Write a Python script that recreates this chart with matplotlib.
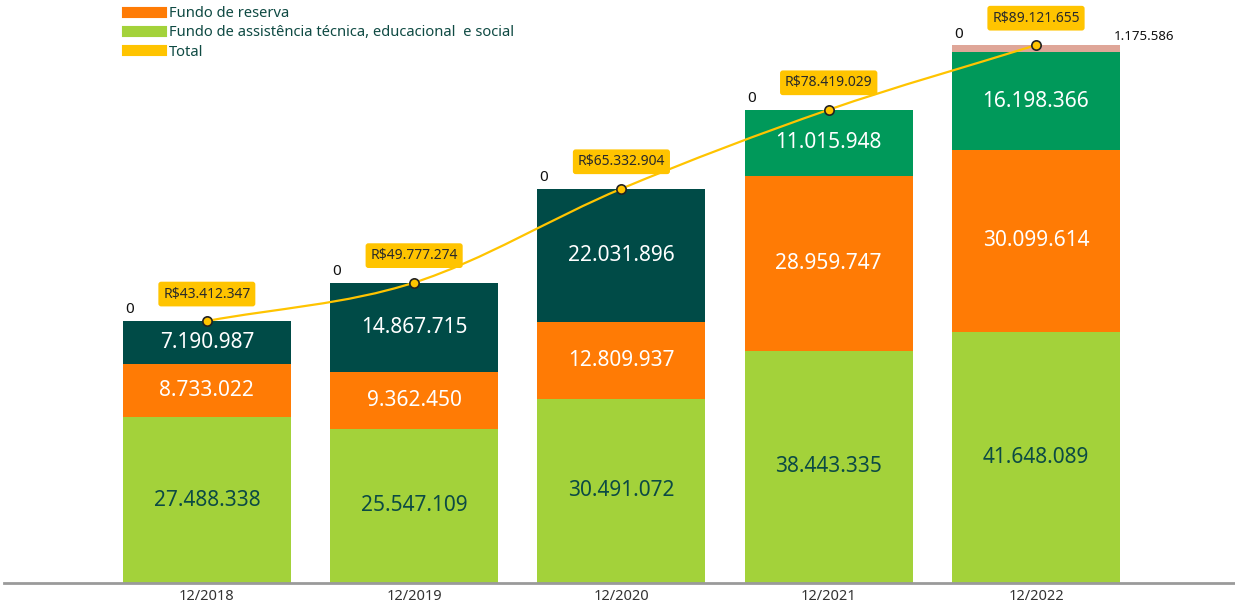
import numpy as np
import matplotlib.pyplot as plt
from matplotlib.path import Path
from matplotlib.patches import PathPatch
from matplotlib.lines import Line2D

plt.rcParams['font.family'] = ['Noto Sans', 'DejaVu Sans']

periodos = ['12/2018', '12/2019', '12/2020', '12/2021', '12/2022']
fates = [27488338, 25547109, 30491072, 38443335, 41648089]
reserva = [8733022, 9362450, 12809937, 28959747, 30099614]
capital = [7190987, 14867715, 22031896, 0, 0]
sobras = [0, 0, 0, 11015948, 16198366]
outros = [0, 0, 0, 0, 1175586]
zerado = [0, 0, 0, 0, 0]
total = [43412347, 49777274, 65332904, 78419029, 89121655]

def fmt(v):
    return f'{v:,}'.replace(',', '.')

fig = plt.figure(figsize=(12.35, 6.03), dpi=100)
ax = fig.add_axes([0.003, 20 / 603, 0.997, 583 / 603])

x = np.arange(len(periodos))
w = 0.81
series = [
    (fates, '#a3d23a', '#0c4a44'),
    (reserva, '#ff7b05', 'white'),
    (capital, '#004b47', 'white'),
    (sobras, '#00995a', 'white'),
    (outros, '#dfa698', 'black'),
]
bottom = np.zeros(len(periodos))
for vals, cor, cor_txt in series:
    vals = np.array(vals, dtype=float)
    ax.bar(x, vals, w, bottom=bottom, color=cor, linewidth=0, zorder=2)
    for i, v in enumerate(vals):
        if v > 5e6:
            ax.text(x[i], bottom[i] + v / 2, fmt(int(v)), ha='center', va='center',
                    fontsize=15, color=cor_txt, zorder=4)
    bottom += vals

# rótulo do segmento pequeno de 2022
ax.text(x[4] + w / 2 - 0.03, bottom[4] + 0.3e6, fmt(outros[4]), ha='left', va='bottom',
        fontsize=9.5, color='#111111', zorder=4)

# rótulos "0" da série zerada no topo de cada barra
for i, v in enumerate(zerado):
    ax.text(x[i] - w / 2 + 0.01, bottom[i] + 0.6e6, fmt(v), ha='left', va='bottom',
            fontsize=11, color='#111111', zorder=4)

# linha do total suavizada com curvas de Bezier
pts = np.column_stack([x, total]).astype(float)
ext = np.vstack([pts[0] - (pts[1] - pts[0]), pts, pts[-1] + (pts[-1] - pts[-2])])
verts = [pts[0]]
codes = [Path.MOVETO]
for i in range(1, len(ext) - 2):
    p0, p1, p2, p3 = ext[i - 1], ext[i], ext[i + 1], ext[i + 2]
    verts += [p1 + (p2 - p0) / 6, p2 - (p3 - p1) / 6, p2]
    codes += [Path.CURVE4] * 3
ax.add_patch(PathPatch(Path(verts, codes), facecolor='none', edgecolor='#ffc400',
                       linewidth=1.6, zorder=5))
ax.scatter(x, total, s=45, color='#ffc400', edgecolor='#222222', linewidth=1.2, zorder=6)
for i, v in enumerate(total):
    ax.annotate('R$' + fmt(v), (x[i], v), xytext=(0, 14), textcoords='offset points',
                ha='center', va='bottom', fontsize=10, color='#2a2a2a', zorder=7,
                bbox=dict(boxstyle='round,pad=0.35,rounding_size=0.2', fc='#ffc400', ec='none'))

ax.set_xlim(-0.98, 4.96)
ax.set_ylim(0, 96.6e6)
ax.set_xticks(x, periodos)
ax.tick_params(axis='x', length=0, labelsize=10.5, colors='#333333', pad=4)
ax.set_yticks([])
for s in ['top', 'left', 'right']:
    ax.spines[s].set_visible(False)
ax.spines['bottom'].set_color('#9a9a9a')
ax.spines['bottom'].set_linewidth(2)

handles = [Line2D([], [], color='#ff7b05', lw=8),
           Line2D([], [], color='#a3d23a', lw=8),
           Line2D([], [], color='#ffc400', lw=8)]
labels = ['Fundo de reserva', 'Fundo de assistência técnica, educacional  e social', 'Total']
fig.legend(handles, labels, loc='upper left', bbox_to_anchor=(120 / 1235, 1 + 1 / 603),
           frameon=False, fontsize=10.6, handlelength=2.3, handletextpad=0.55,
           labelspacing=0.28, borderpad=0, labelcolor='#0f4a43')

fig.savefig('out.png', dpi=100)
